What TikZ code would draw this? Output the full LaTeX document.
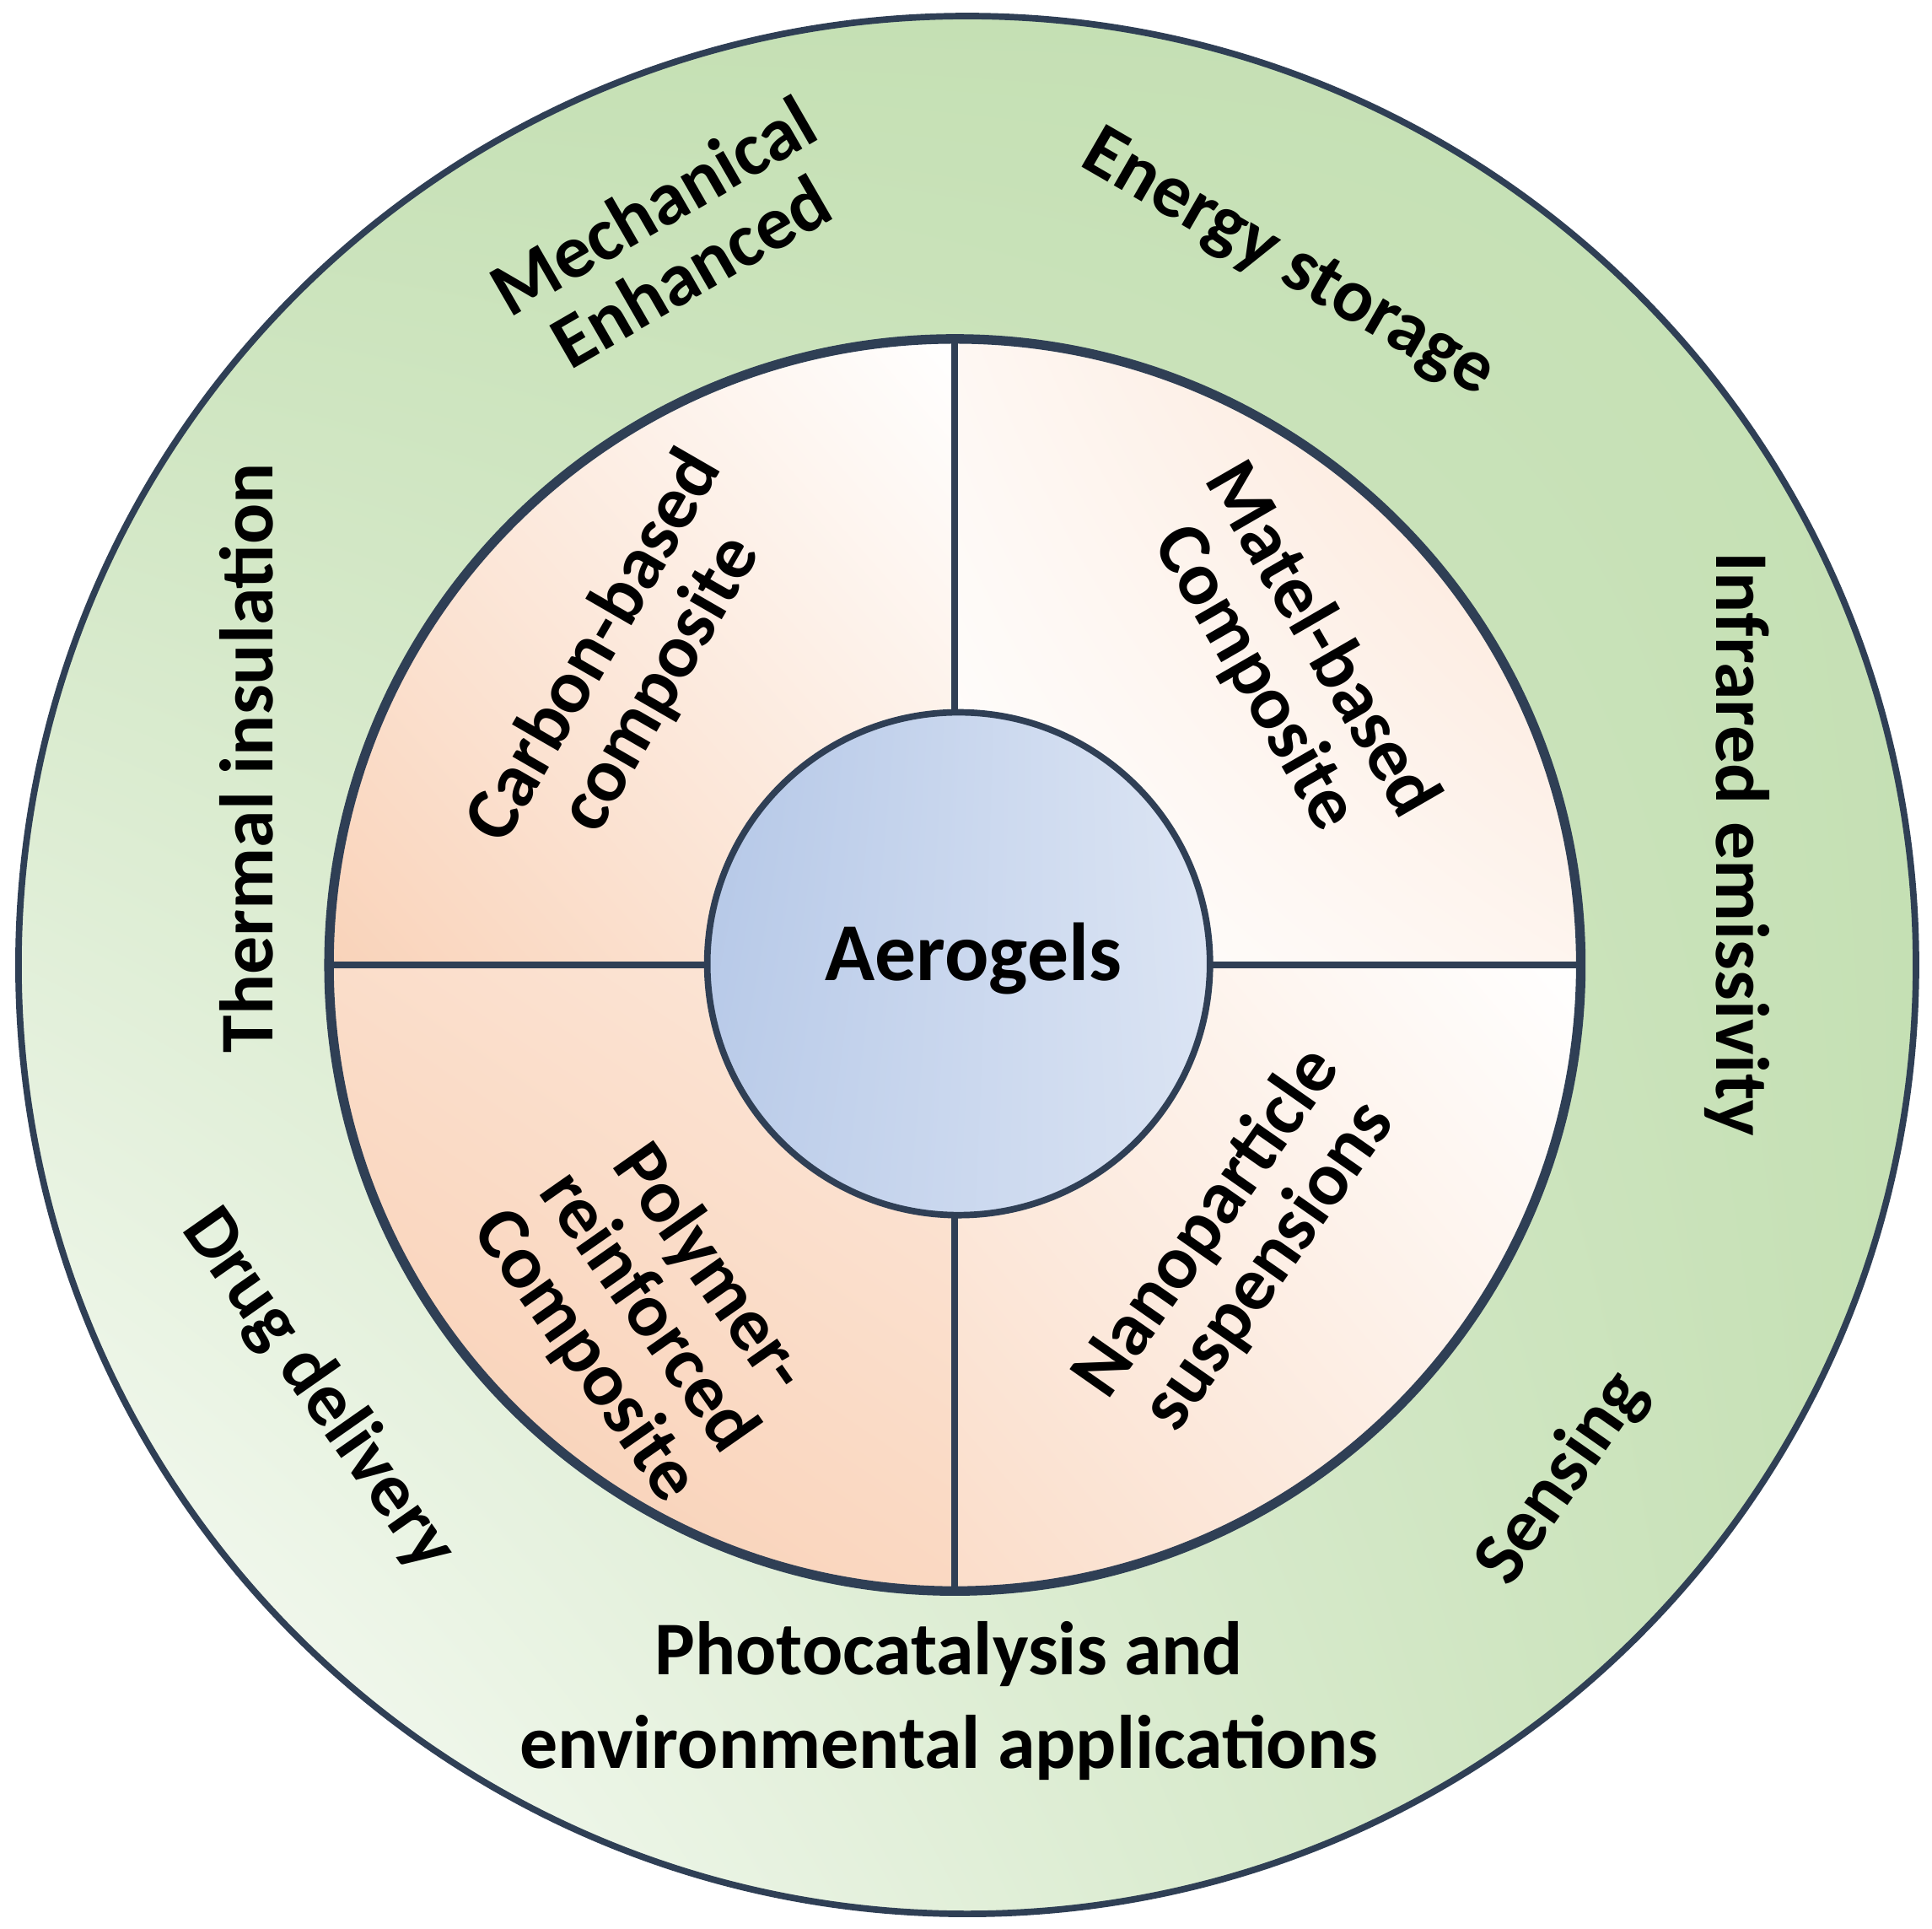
\documentclass[tikz,border=0pt]{standalone}
\usepackage{fontspec}
\usetikzlibrary{shadings}
\setmainfont{Carlito}
\begin{document}
\begin{tikzpicture}[x=0.01cm,y=-0.01cm,
  lab/.style={font=\bfseries\fontsize{17.5}{17.5}\selectfont,align=center,text=black},
  ring/.style={draw=navy,line width=1.5pt}]
\definecolor{navy}{HTML}{2F3F55}
\definecolor{grn}{HTML}{C5E0B4}
\definecolor{pch}{HTML}{F8CBAD}
\definecolor{blu}{HTML}{B4C7E7}
\useasboundingbox (0,0) rectangle (1568,1565);
\fill[white] (0,0) rectangle (1568,1565);
% outer ring
\shade[upper left=grn,upper right=grn,lower left=white,lower right=grn] (785,783) circle (770);
\draw[ring] (785,783) circle (770);
% quadrants
\begin{scope}
\clip (775,783) circle (508);
\shade[lower left=pch!85,upper right=white,upper left=pch!45,lower right=pch!40] (267,275) rectangle (775,783);
\shade[upper right=pch!55,lower left=white,upper left=pch!15,lower right=pch!20] (775,275) rectangle (1283,783);
\shade[lower left=pch!95,upper right=pch!45,upper left=pch!65,lower right=pch!75] (267,783) rectangle (775,1291);
\shade[lower left=pch!65,upper right=white,upper left=pch!35,lower right=pch!30] (775,783) rectangle (1283,1291);
\end{scope}
\draw[draw=navy,line width=2.2pt] (775,783) circle (508);
\coordinate (qt) at (775,275); \coordinate (qb) at (775,1291);
\coordinate (ql) at (267,783); \coordinate (qr) at (1283,783);
\draw[ring] (qt) -- (775,783) (qb) -- (775,783) (ql) -- (775,783) (qr) -- (775,783);
% centre
\shade[ring,upper left=blu,lower left=blu!90,upper right=blu!45,lower right=blu!50] (778,782) circle (204);
\node[lab,font=\bfseries\fontsize{19}{20}\selectfont] (aero) at (790,778) {Aerogels};
% outer labels
\node[lab,rotate=30] (mech) at (545,193) {Mechanical\\Enhanced};
\node[lab,rotate=-30] (energy) at (1045,215) {Energy storage};
\node[lab,rotate=90] (therm) at (200,615) {Thermal insulation};
\node[lab,rotate=-90] (infra) at (1410,685) {Infrared emissivity};
\node[lab,rotate=-55] (drug) at (258,1128) {Drug delivery};
\node[lab,rotate=55] (sens) at (1268,1200) {Sensing};
\node[lab] (photo) at (770,1380) {Photocatalysis and\\[4pt]environmental applications};
% inner labels
\node[lab,rotate=60] (carbon) at (510,540) {Carbon-based\\composite};
\node[lab,rotate=-60] (matel) at (1045,535) {Matel-based\\Composite};
\node[lab,rotate=-55] (poly) at (525,1065) {Polymer-\\reinforced\\Composite};
\node[lab,rotate=55] (nano) at (1005,1010) {Nanoparticle\\suspensions};
\end{tikzpicture}
\end{document}
